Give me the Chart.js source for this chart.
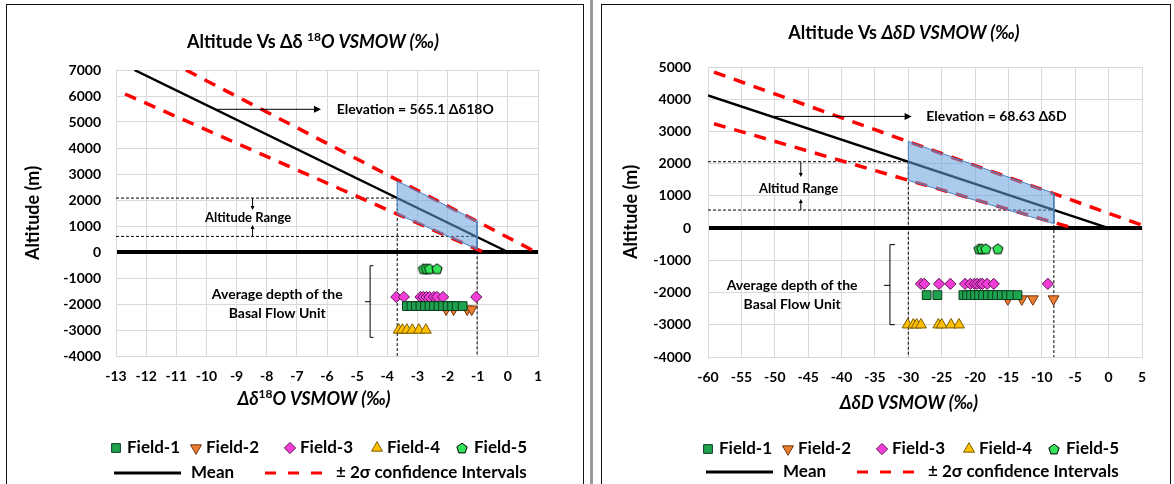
<!DOCTYPE html>
<html>
<head>
<meta charset="utf-8">
<script src="https://cdn.jsdelivr.net/npm/chart.js@4.4.1/dist/chart.umd.min.js"></script>
<style>
body { margin: 0; width: 1174px; height: 484px; overflow: hidden; background: #fff; position: relative; }
.frame { position: absolute; top: 4px; height: 520px; border: 1px solid #111; }
.frame canvas { display: block; }
#sep { position: absolute; left: 590px; top: 0; width: 3px; height: 484px; background: #9a9a9a; }
</style>
</head>
<body>
<div class="frame" style="left:6px;width:576px"><canvas id="chartO18" width="576" height="479"></canvas></div>
<div id="sep"></div>
<div class="frame" style="left:601px;width:568px"><canvas id="chartDD" width="568" height="479"></canvas></div>
<script>
const FONT = "Lato, 'Open Sans', 'DejaVu Sans', sans-serif";

const fieldNames = ['Field-1', 'Field-2', 'Field-3', 'Field-4', 'Field-5'];
const fieldAlt = [-2080, -2200, -1730, -3000, -640];

// Δδ18O panel
const o18Ticks = [-13, -12, -11, -10, -9, -8, -7, -6, -5, -4, -3, -2, -1, 0, 1];
const o18AltTicks = [-4000, -3000, -2000, -1000, 0, 1000, 2000, 3000, 4000, 5000, 6000, 7000];
const o18Field1 = [-3.35, -3.2, -3.05, -2.9, -2.75, -2.6, -2.45, -2.3, -2.15, -2.0, -1.85, -1.7, -1.5];
const o18Field2 = [-2.05, -1.8, -1.35, -1.2];
const o18Field3 = [-3.7, -3.45, -2.9, -2.8, -2.7, -2.6, -2.45, -2.35, -2.15, -1.05];
const o18Field4 = [-3.62, -3.5, -3.35, -3.17, -2.95, -2.72];
const o18Field5 = [-2.8, -2.7, -2.6, -2.35];
const o18MeanX = [-12.39, 0], o18MeanY = [7000, 0];
const o18UpperX = [-10.68, 0.93], o18UpperY = [7000, 0];
const o18LowerX = [-12.7, -0.82], o18LowerY = [6077, 0];
const o18BandX = [-3.67, -1.02, -1.02, -3.67, -3.67];
const o18BandY = [2730, 1190, 110, 1460, 2730];
const o18RangeX = [-3.67, -1.02], o18RangeY = [2074, 600];

// ΔδD panel
const dDTicks = [-60, -55, -50, -45, -40, -35, -30, -25, -20, -15, -10, -5, 0, 5];
const dDAltTicks = [-4000, -3000, -2000, -1000, 0, 1000, 2000, 3000, 4000, 5000];
const dDField1 = [-27.25, -25.65, -21.75, -21.2, -20.6, -20.0, -19.4, -18.8, -18.1, -17.4, -16.7, -16.0, -15.3, -14.6, -13.65];
const dDField2 = [-15.1, -13.0, -11.35, -8.25];
const dDField3 = [-28.1, -27.6, -25.4, -23.7, -21.5, -20.7, -20.1, -19.7, -19.2, -18.9, -18.2, -17.2, -9.1];
const dDField4 = [-30.1, -29.25, -28.75, -28.1, -25.5, -25.0, -23.6, -22.4];
const dDField5 = [-19.4, -19.0, -18.4, -16.6];
const dDMeanX = [-60, 0], dDMeanY = [4120, 0];
const dDUpperX = [-59.1, 5], dDUpperY = [4840, 90];
const dDLowerX = [-59.1, -5.3], dDLowerY = [3240, 0];
const dDBandX = [-30, -8.2, -8.2, -30, -30];
const dDBandY = [2690, 1080, 140, 1480, 2690];
const dDRangeX = [-30, -8.2], dDRangeY = [2060, 560];

function makePentagon(r, fill, stroke) {
    const c = document.createElement('canvas');
    const s = Math.ceil(r * 2 + 3);
    c.width = s; c.height = s;
    const g = c.getContext('2d');
    g.beginPath();
    for (let i = 0; i < 5; i++) {
        const a = -Math.PI / 2 + i * 2 * Math.PI / 5;
        const px = s / 2 + r * Math.cos(a), py = s / 2 + r * Math.sin(a) + r * 0.1;
        if (i) g.lineTo(px, py); else g.moveTo(px, py);
    }
    g.closePath();
    g.fillStyle = fill; g.fill();
    g.lineWidth = 1; g.strokeStyle = stroke; g.stroke();
    return c;
}

const fieldStyles = [
    { pointStyle: 'rect', radius: 6.2, rotation: 0, bg: '#1FA24F', border: '#0c3b1c' },
    { pointStyle: 'triangle', radius: 6.3, rotation: 180, bg: '#ED7D31', border: '#6e3008' },
    { pointStyle: 'rectRot', radius: 5.6, rotation: 0, bg: '#F23ED6', border: '#5c1052' },
    { pointStyle: 'triangle', radius: 6.3, rotation: 0, bg: '#FFC000', border: '#7a5c00' },
    { pointStyle: makePentagon(5.4, '#35E35A', '#000'), radius: 6, rotation: 0, bg: '#35E35A', border: '#000' }
];

function pts(xs, ys) {
    return xs.map((x, i) => ({ x: x, y: Array.isArray(ys) ? ys[i] : ys }));
}

function lineDs(xs, ys, color, width, dash, order) {
    return { data: pts(xs, ys), showLine: true, borderColor: color, borderWidth: width,
        borderDash: dash || [], pointRadius: 0, fill: false, order: order };
}

function arrow(ctx, x1, y1, x2, y2, len, half) {
    const a = Math.atan2(y2 - y1, x2 - x1);
    ctx.beginPath(); ctx.moveTo(x1, y1);
    ctx.lineTo(x2 - Math.cos(a) * len * 0.8, y2 - Math.sin(a) * len * 0.8); ctx.stroke();
    ctx.beginPath(); ctx.moveTo(x2, y2);
    ctx.lineTo(x2 - Math.cos(a) * len - Math.sin(a) * half, y2 - Math.sin(a) * len + Math.cos(a) * half);
    ctx.lineTo(x2 - Math.cos(a) * len + Math.sin(a) * half, y2 - Math.sin(a) * len - Math.cos(a) * half);
    ctx.closePath(); ctx.fill();
}

function richText(ctx, parts, cx, cy) {
    let w = 0;
    parts.forEach(p => { ctx.font = p.font; p.w = ctx.measureText(p.t).width; w += p.w; });
    let x = cx - w / 2;
    ctx.textBaseline = 'middle'; ctx.textAlign = 'left'; ctx.fillStyle = '#000';
    parts.forEach(p => { ctx.font = p.font; ctx.fillText(p.t, x, cy + (p.dy || 0)); x += p.w; });
}

// legend offsets from the left of the plot area
const legMarkX = [0, 80, 174, 261, 346];
const legTextX = [11, 90, 184, 271, 358];

function decorPlugin(d) {
    return {
        id: 'decor',
        afterDatasetsDraw(chart) {
            const ctx = chart.ctx, sx = chart.scales.x, sy = chart.scales.y;
            const X = v => sx.getPixelForValue(v), Y = v => sy.getPixelForValue(v);
            ctx.save();
            ctx.strokeStyle = '#000'; ctx.fillStyle = '#000'; ctx.lineWidth = 1;
            d.arrows.forEach(a => arrow(ctx, X(a.x1), Y(a.y1), X(a.x2), Y(a.y2), a.len, a.half));
            const b = d.bracket;
            ctx.beginPath();
            ctx.moveTo(X(b.tip), Y(b.top)); ctx.lineTo(X(b.x), Y(b.top));
            ctx.lineTo(X(b.x), Y(b.bottom)); ctx.lineTo(X(b.tip), Y(b.bottom));
            ctx.moveTo(X(b.x), Y(b.midY)); ctx.lineTo(X(b.mid), Y(b.midY));
            ctx.stroke();
            ctx.textBaseline = 'middle';
            d.texts.forEach(t => {
                ctx.font = 'bold ' + t.size + 'px ' + FONT;
                ctx.textAlign = t.align;
                ctx.fillText(t.t, X(t.x), Y(t.y));
            });
            ctx.restore();
        },
        afterDraw(chart) {
            const ctx = chart.ctx, left = chart.chartArea.left;
            ctx.save();
            richText(ctx, d.title, d.titlePos[0], d.titlePos[1]);
            richText(ctx, d.xTitle, d.xTitlePos[0], d.xTitlePos[1]);
            const legFont = 'bold 17px ' + FONT;
            fieldStyles.forEach((st, i) => {
                ctx.fillStyle = st.bg; ctx.strokeStyle = st.border; ctx.lineWidth = 1;
                Chart.helpers.drawPoint(ctx, { pointStyle: st.pointStyle, radius: st.radius,
                    rotation: st.rotation, borderWidth: 1 }, left + legMarkX[i], d.legRows[0]);
                ctx.fillStyle = '#000'; ctx.font = legFont;
                ctx.textAlign = 'left'; ctx.textBaseline = 'middle';
                ctx.fillText(fieldNames[i], left + legTextX[i], d.legRows[0]);
            });
            const r2 = d.legRows[1];
            ctx.strokeStyle = '#000'; ctx.lineWidth = 3;
            ctx.beginPath(); ctx.moveTo(left - 2, r2); ctx.lineTo(left + 65, r2); ctx.stroke();
            ctx.strokeStyle = '#FF0000'; ctx.setLineDash([11, 12]);
            ctx.beginPath(); ctx.moveTo(left + 149, r2); ctx.lineTo(left + 207, r2); ctx.stroke();
            ctx.setLineDash([]);
            ctx.fillStyle = '#000'; ctx.font = legFont;
            ctx.fillText('Mean', left + 75, r2);
            ctx.fillText('± 2σ confidence Intervals', left + 220, r2);
            ctx.restore();
        }
    };
}

function makeChart(id, p) {
    const fields = [p.f1, p.f2, p.f3, p.f4, p.f5].map((xs, i) => ({
        label: fieldNames[i], data: pts(xs, fieldAlt[i]), showLine: false,
        pointStyle: fieldStyles[i].pointStyle, pointRadius: fieldStyles[i].radius,
        pointRotation: fieldStyles[i].rotation, backgroundColor: fieldStyles[i].bg,
        borderColor: fieldStyles[i].border, borderWidth: 1, order: 0
    }));
    const xmin = p.xTicks[0], ymin = p.yTicks[0];
    const guides = [];
    p.rangeX.forEach((rx, i) => {
        guides.push(lineDs([xmin, rx], [p.rangeY[i], p.rangeY[i]], '#000', 1, [3, 2], 3));
        guides.push(lineDs([rx, rx], [p.rangeY[i], ymin], '#000', 1, [3, 2], 3));
    });
    const datasets = fields.concat([
        { data: pts(p.bandX, p.bandY), showLine: true, fill: 'shape',
          backgroundColor: 'rgba(100,160,220,0.55)', borderColor: '#4a7ebb', borderWidth: 1,
          pointRadius: 0, order: 1 },
        lineDs(p.meanX, p.meanY, '#000', 2.5, [], 2),
        lineDs(p.upX, p.upY, '#FF0000', 3.5, [12, 9], 2),
        lineDs(p.loX, p.loY, '#FF0000', 3.5, [12, 9], 2)
    ], guides);

    const tickFont = { family: FONT, weight: 'bold', size: 14 };
    return new Chart(document.getElementById(id), {
        type: 'scatter',
        data: { datasets: datasets },
        options: {
            responsive: false, animation: false, events: [],
            layout: { padding: p.pad },
            plugins: { legend: { display: false }, tooltip: { enabled: false } },
            scales: {
                x: {
                    type: 'linear', min: xmin, max: p.xTicks[p.xTicks.length - 1],
                    afterBuildTicks: s => { s.ticks = p.xTicks.map(v => ({ value: v })); },
                    afterFit: s => { s.height = p.xAxisH; },
                    ticks: { font: tickFont, color: '#000', padding: 12, autoSkip: false, maxRotation: 0,
                        callback: v => String(v) },
                    grid: { color: '#d9d9d9', drawTicks: false },
                    border: { color: '#d9d9d9' }
                },
                y: {
                    type: 'linear', min: ymin, max: p.yTicks[p.yTicks.length - 1],
                    afterBuildTicks: s => { s.ticks = p.yTicks.map(v => ({ value: v })); },
                    afterFit: s => { s.width = p.yAxisW; },
                    ticks: { font: tickFont, color: '#000', padding: p.yTickPad, autoSkip: false,
                        callback: v => String(v) },
                    grid: {
                        drawTicks: false,
                        color: c => (c.tick && c.tick.value === 0) ? '#000' : '#d9d9d9',
                        lineWidth: c => (c.tick && c.tick.value === 0) ? 4 : 1
                    },
                    border: { color: '#d9d9d9' },
                    title: { display: true, text: 'Altitude (m)', color: '#000',
                        font: { family: FONT, weight: 'bold', size: 18 }, padding: { top: 4, bottom: 4 } }
                }
            }
        },
        plugins: [decorPlugin(p.decor)]
    });
}

const bold18 = 'bold 18px ' + FONT, ital18 = 'italic bold 18px ' + FONT, sup = 'bold 12px ' + FONT;

makeChart('chartO18', {
    xTicks: o18Ticks, yTicks: o18AltTicks,
    f1: o18Field1, f2: o18Field2, f3: o18Field3, f4: o18Field4, f5: o18Field5,
    meanX: o18MeanX, meanY: o18MeanY, upX: o18UpperX, upY: o18UpperY, loX: o18LowerX, loY: o18LowerY,
    bandX: o18BandX, bandY: o18BandY, rangeX: o18RangeX, rangeY: o18RangeY,
    pad: { left: 11, right: 45, top: 65, bottom: 71 }, xAxisH: 57, yAxisW: 98, yTickPad: 15,
    decor: {
        title: [{ t: 'Altitude Vs Δδ ', font: bold18 }, { t: '18', font: sup, dy: -5 }, { t: 'O VSMOW (‰)', font: ital18 }],
        titlePos: [306, 37],
        xTitle: [{ t: 'Δδ', font: ital18 }, { t: '18', font: sup, dy: -5 }, { t: 'O VSMOW (‰)', font: ital18 }],
        xTitlePos: [307, 394],
        legRows: [443, 468],
        arrows: [
            { x1: -9.66, y1: 5488, x2: -6.2, y2: 5488, len: 7, half: 3.5 },
            { x1: -8.47, y1: 2074, x2: -8.47, y2: 1615, len: 4, half: 2 },
            { x1: -8.47, y1: 600, x2: -8.47, y2: 1038, len: 4, half: 2 }
        ],
        texts: [
            { t: 'Elevation = 565.1 Δδ18O', x: -5.68, y: 5488, align: 'left', size: 14 },
            { t: 'Altitude Range', x: -8.62, y: 1320, align: 'center', size: 13 },
            { t: 'Average depth of the', x: -7.65, y: -1615, align: 'center', size: 14 },
            { t: 'Basal Flow Unit', x: -7.65, y: -2358, align: 'center', size: 14 }
        ],
        bracket: { x: -4.57, tip: -4.46, mid: -4.74, top: -527, bottom: -3281, midY: -1912 }
    }
});

makeChart('chartDD', {
    xTicks: dDTicks, yTicks: dDAltTicks,
    f1: dDField1, f2: dDField2, f3: dDField3, f4: dDField4, f5: dDField5,
    meanX: dDMeanX, meanY: dDMeanY, upX: dDUpperX, upY: dDUpperY, loX: dDLowerX, loY: dDLowerY,
    bandX: dDBandX, bandY: dDBandY, rangeX: dDRangeX, rangeY: dDRangeY,
    pad: { left: 14, right: 28, top: 62, bottom: 67 }, xAxisH: 60, yAxisW: 92, yTickPad: 17,
    decor: {
        title: [{ t: 'Altitude Vs ', font: bold18 }, { t: 'ΔδD VSMOW (‰)', font: ital18 }],
        titlePos: [302, 28],
        xTitle: [{ t: 'ΔδD VSMOW (‰)', font: ital18 }],
        xTitlePos: [307, 398],
        legRows: [444, 467],
        arrows: [
            { x1: -50.1, y1: 3467, x2: -29.5, y2: 3467, len: 7, half: 3.5 },
            { x1: -46.1, y1: 2060, x2: -46.1, y2: 1590, len: 4, half: 2 },
            { x1: -46.1, y1: 560, x2: -46.1, y2: 900, len: 4, half: 2 }
        ],
        texts: [
            { t: 'Elevation = 68.63 ΔδD', x: -27.3, y: 3467, align: 'left', size: 14 },
            { t: 'Altitud Range', x: -46.45, y: 1230, align: 'center', size: 13 },
            { t: 'Average depth of the', x: -47.4, y: -1786, align: 'center', size: 14 },
            { t: 'Basal Flow Unit', x: -47.4, y: -2376, align: 'center', size: 14 }
        ],
        bracket: { x: -32.75, tip: -32.0, mid: -33.65, top: -512, bottom: -2997, midY: -1776 }
    }
});
</script>
</body>
</html>
